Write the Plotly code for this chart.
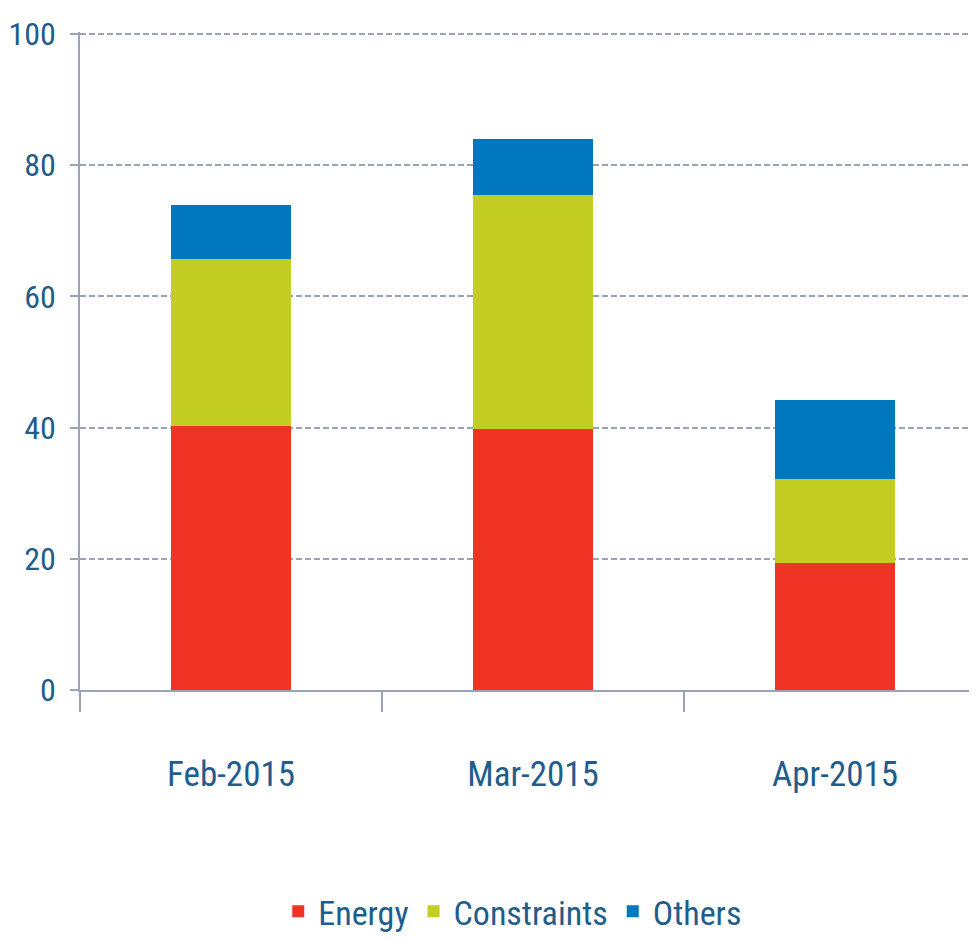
import plotly.graph_objects as go

# Data
months = ["Feb-2015", "Mar-2015", "Apr-2015"]
energy = [40.3, 39.8, 19.3]
constraints = [25.4, 35.6, 12.9]
others = [8.2, 8.6, 12.0]

y_ticks = [0, 20, 40, 60, 80, 100]

TEXT = "#1f5d8c"
AXIS = "#9aa3b8"
FONT = "Liberation Sans Narrow, Roboto Condensed, Arial Narrow, Roboto, sans-serif"

fig = go.Figure()

fig.add_trace(go.Bar(x=months, y=energy, name="Energy", marker_color="#ee3424",
                     marker_line_width=0))
fig.add_trace(go.Bar(x=months, y=constraints, name="Constraints", marker_color="#c3cd22",
                     marker_line_width=0))
fig.add_trace(go.Bar(x=months, y=others, name="Others", marker_color="#0177bf",
                     marker_line_width=0))

# plot area runs a little past the right window edge, like the source
fig.update_layout(
    width=985,
    height=940,
    barmode="stack",
    bargap=0.6,
    plot_bgcolor="white",
    paper_bgcolor="white",
    margin=dict(l=72, r=0, t=24, b=258, autoexpand=False),
    font=dict(family=FONT, color=TEXT, size=34),
    showlegend=True,
    legend=dict(
        orientation="h",
        traceorder="normal",
        x=0.474, xanchor="center",
        y=-0.337, yanchor="middle",
        font=dict(size=34, color=TEXT),
        itemwidth=30,
    ),
)

fig.update_xaxes(
    range=[-0.5, 2.523],
    automargin=False,
    showline=True,
    linecolor=AXIS,
    linewidth=2,
    showgrid=False,
    tickson="boundaries",
    ticks="outside",
    ticklen=20,
    tickwidth=1.5,
    tickcolor=AXIS,
    ticklabelstandoff=52,
    tickfont=dict(size=35, color=TEXT),
)

fig.update_yaxes(
    range=[0, 100.3],
    tickvals=y_ticks,
    automargin=False,
    showline=True,
    linecolor=AXIS,
    linewidth=1.5,
    showgrid=True,
    gridcolor=AXIS,
    gridwidth=2,
    griddash="6px,3px",
    zeroline=False,
    ticks="outside",
    ticklen=8,
    tickwidth=2,
    tickcolor=AXIS,
    ticklabelstandoff=8,
    tickfont=dict(size=32, color=TEXT),
)

fig.write_html("out.html")
